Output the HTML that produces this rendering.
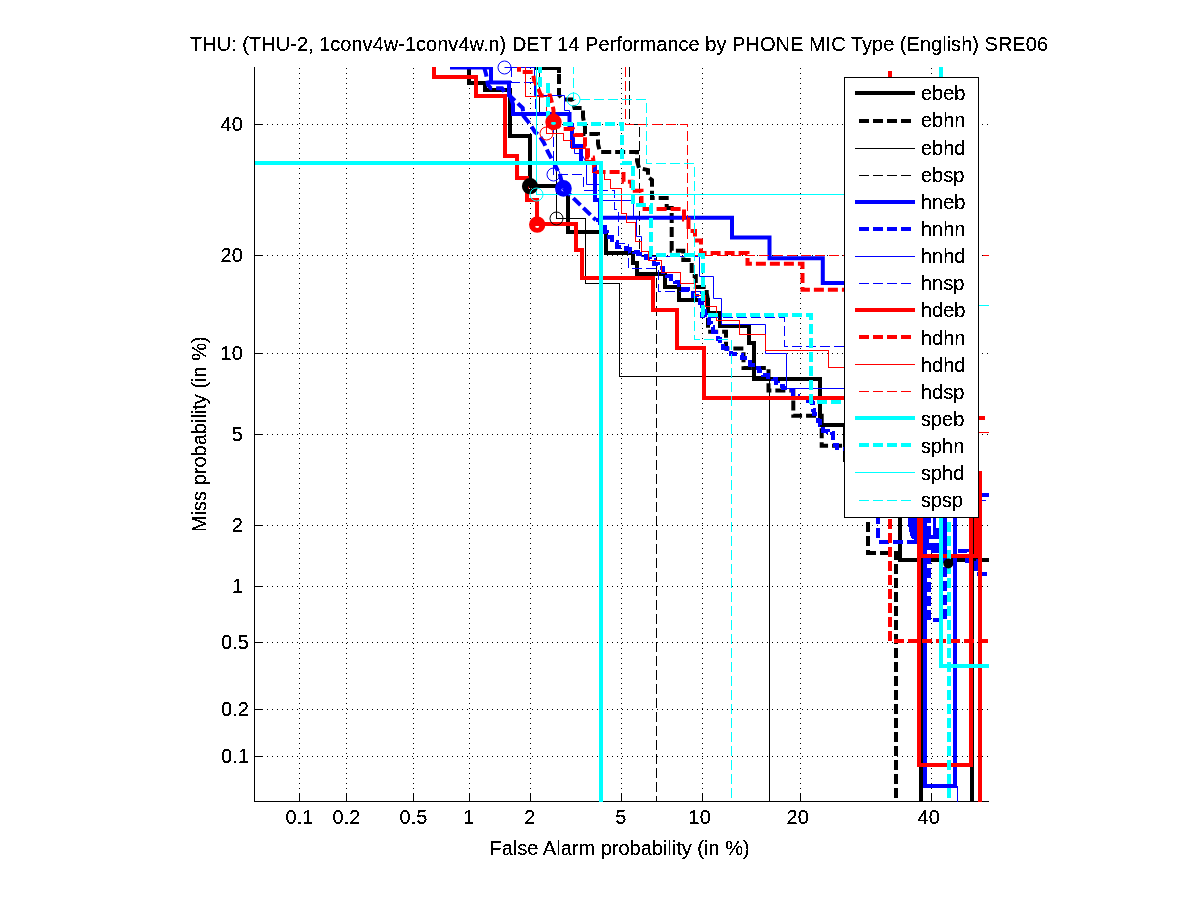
<!DOCTYPE html>
<html><head><meta charset="utf-8"><title>DET plot</title>
<style>
html,body{margin:0;padding:0;background:#fff;}
body{width:1201px;height:900px;overflow:hidden;font-family:"Liberation Sans",sans-serif;}
svg{display:block;}
text{font-family:"Liberation Sans",sans-serif;font-size:20px;fill:#000;filter:url(#th);}
</style></head><body>
<svg width="1201" height="900" viewBox="0 0 1201 900">
<rect x="0" y="0" width="1201" height="900" fill="#ffffff"/>
<defs><clipPath id="pc"><rect x="255" y="67" width="734" height="735"/></clipPath>
<filter id="th" x="-2%" y="-20%" width="104%" height="140%" color-interpolation-filters="sRGB"><feComponentTransfer><feFuncA type="discrete" tableValues="0 0 1 1 1"/></feComponentTransfer></filter></defs>

<g stroke="#000" stroke-width="1" stroke-dasharray="1 4" shape-rendering="crispEdges" fill="none">
<line x1="299.5" y1="799" x2="299.5" y2="67"/>
<line x1="257" y1="756.5" x2="989" y2="756.5"/>
<line x1="346.5" y1="799" x2="346.5" y2="67"/>
<line x1="257" y1="709.5" x2="989" y2="709.5"/>
<line x1="413.5" y1="799" x2="413.5" y2="67"/>
<line x1="257" y1="642.5" x2="989" y2="642.5"/>
<line x1="469.5" y1="799" x2="469.5" y2="67"/>
<line x1="257" y1="586.5" x2="989" y2="586.5"/>
<line x1="530.5" y1="799" x2="530.5" y2="67"/>
<line x1="257" y1="525.5" x2="989" y2="525.5"/>
<line x1="621.5" y1="799" x2="621.5" y2="67"/>
<line x1="257" y1="434.5" x2="989" y2="434.5"/>
<line x1="702.5" y1="799" x2="702.5" y2="67"/>
<line x1="257" y1="353.5" x2="989" y2="353.5"/>
<line x1="800.5" y1="799" x2="800.5" y2="67"/>
<line x1="257" y1="255.5" x2="989" y2="255.5"/>
<line x1="931.5" y1="799" x2="931.5" y2="67"/>
<line x1="257" y1="124.5" x2="989" y2="124.5"/>
</g>
<g stroke="#000" stroke-width="1" shape-rendering="crispEdges" fill="none">
<line x1="254.5" y1="67" x2="254.5" y2="802"/>
<line x1="254" y1="801.5" x2="989" y2="801.5"/>
<line x1="299.5" y1="801" x2="299.5" y2="793"/>
<line x1="254" y1="756.5" x2="263" y2="756.5"/>
<line x1="346.5" y1="801" x2="346.5" y2="793"/>
<line x1="254" y1="709.5" x2="263" y2="709.5"/>
<line x1="413.5" y1="801" x2="413.5" y2="793"/>
<line x1="254" y1="642.5" x2="263" y2="642.5"/>
<line x1="469.5" y1="801" x2="469.5" y2="793"/>
<line x1="254" y1="586.5" x2="263" y2="586.5"/>
<line x1="530.5" y1="801" x2="530.5" y2="793"/>
<line x1="254" y1="525.5" x2="263" y2="525.5"/>
<line x1="621.5" y1="801" x2="621.5" y2="793"/>
<line x1="254" y1="434.5" x2="263" y2="434.5"/>
<line x1="702.5" y1="801" x2="702.5" y2="793"/>
<line x1="254" y1="353.5" x2="263" y2="353.5"/>
<line x1="800.5" y1="801" x2="800.5" y2="793"/>
<line x1="254" y1="255.5" x2="263" y2="255.5"/>
<line x1="931.5" y1="801" x2="931.5" y2="793"/>
<line x1="254" y1="124.5" x2="263" y2="124.5"/>
</g>
<g clip-path="url(#pc)" fill="none" shape-rendering="crispEdges" stroke-linejoin="miter">
<path d="M469 63 L469 82.5 L485 82.5 L485 89.5 L509.5 89.5 L509.5 136 L530 136 L530 186 L568 186 L568 231.7 L606 231.7 L606 252.5 L633.3 252.5 L633.3 263 L636.7 263 L636.7 274 L665 274 L665 286.7 L679 286.7 L679 299.5 L708.3 299.5 L708.3 312.5 L720 312.5 L720 325.8 L749.2 325.8 L749.2 342.5 L754 342.5 L754 379 L820.3 379 L820.3 425 L845 425 L845 460 L900.3 460 L900.3 559.7 L992 559.7" stroke="#000000" stroke-width="4"/>
<path d="M921.2 559.7 L921.2 806" stroke="#000000" stroke-width="4"/>
<path d="M972 480 L972 806" stroke="#000000" stroke-width="4"/>
<path d="M534 67.8 L558.5 67.8 L558.5 72.7" stroke="#000000" stroke-width="4"/>
<path d="M559 74 L559 95 L563 99.5 L572 99.5 L574.5 108 L583 108 L583 117 L585 127 L585 134 L598 134 L598 144 L600 152 L637 152 L637 161 L639 168 L648 170 L648 177 L652 180 L652 198 L666.7 198 L666.7 208 L671.7 208 L671.7 250.8 L683.3 250.8 L683.3 260 L691.7 260 L691.7 276 L695.8 276 L695.8 287 L706.7 287 L706.7 293 L708 300 L708 331.7 L726 331.7 L726 348.5 L743.5 348.5 L743.5 368 L768.5 368 L768.5 390.5 L793.3 390.5 L793.3 415.8 L821.7 415.8 L821.7 445.8 L850 445.8" stroke="#000000" stroke-width="4" stroke-dasharray="10 4" shape-rendering="geometricPrecision"/>
<path d="M868.3 493.7 L868.3 552.5 L895.8 552.5 L895.8 806" stroke="#000000" stroke-width="4" stroke-dasharray="10 4"/>
<path d="M539.5 67 L539.5 114.5 L556.5 114.5 L556.5 218.5 L585.5 218.5 L585.5 283.5 L619.5 283.5 L619.5 376.5 L769.5 376.5 L769.5 806" stroke="#000000" stroke-width="1"/>
<path d="M629.5 67 L629.5 124.5 L639.5 124.5 L639.5 255.5 L656.5 255.5 L656.5 806" stroke="#000000" stroke-width="1" stroke-dasharray="10 4"/>
<path d="M450 67.5 L491 67.5 L491 82.5 L509 82.5 L509 93 L513 104 L513 114 L569.5 114 L569.5 125 L572 125 L572 146 L581 146 L581 163 L595 163 L595 200 L600 200 L600 217.8 L732 217.8 L732 237.5 L769.5 237.5 L769.5 258.3 L822.8 258.3 L822.8 283 L850 283" stroke="#0000ff" stroke-width="4" shape-rendering="geometricPrecision"/>
<path d="M981 494.8 L992 494.8" stroke="#0000ff" stroke-width="4"/>
<path d="M925 480 L925 785.5 L955.3 785.5 L955.3 480" stroke="#0000ff" stroke-width="4"/>
<path d="M484 67 L486 74 L488 85 L491 88.3 L502 88.3 L505 92.7 L510 96 L522.7 108 L523.5 116 L530 124 L535 132 L539 135 L544 143 L548 152 L556 167 L560 175 L563.3 188.3" stroke="#0000ff" stroke-width="4" stroke-dasharray="10 4" shape-rendering="geometricPrecision"/>
<path d="M563.3 188.3 L595.8 220" stroke="#0000ff" stroke-width="4" stroke-dasharray="10 4" shape-rendering="geometricPrecision"/>
<path d="M595.8 220 L599.55 220.0 L599.55 223.35 L603.3 223.35 L603.3 226.7 L605.0 226.7 L605.0 231.7 L606.7 231.7 L606.7 236.7 L611.7 236.7 L611.7 241.7 L616.7 241.7 L616.7 246.7 L621.13 246.7 L621.13 248.07 L625.57 248.07 L625.57 249.43 L630.0 249.43 L630.0 250.8 L633.9 250.8 L633.9 252.47 L637.8 252.47 L637.8 254.13 L641.7 254.13 L641.7 255.8 L645.85 255.8 L645.85 257.9 L650.0 257.9 L650.0 260.0 L654.15 260.0 L654.15 264.15 L658.3 264.15 L658.3 268.3 L662.5 268.3 L662.5 272.05 L666.7 272.05 L666.7 275.8 L670.85 275.8 L670.85 278.75 L675.0 278.75 L675.0 281.7 L679.15 281.7 L679.15 285.45 L683.3 285.45 L683.3 289.2 L688.3 289.2 L688.3 292.5 L693.3 292.5 L693.3 295.8 L696.65 295.8 L696.65 299.55 L700.0 299.55 L700.0 303.3 L701.67 303.3 L701.67 307.05 L703.35 307.05 L703.35 310.8 L705.03 310.8 L705.03 314.55 L706.7 314.55 L706.7 318.3 L708.9 318.3 L708.9 322.77 L711.1 322.77 L711.1 327.23 L713.3 327.23 L713.3 331.7 L715.53 331.7 L715.53 335.57 L717.77 335.57 L717.77 339.43 L720.0 339.43 L720.0 343.3 L723.35 343.3 L723.35 348.3 L726.7 348.3 L726.7 353.3 L730.57 353.3 L730.57 353.87 L734.43 353.87 L734.43 354.43 L738.3 354.43 L738.3 355.0 L741.65 355.0 L741.65 358.35 L745.0 358.35 L745.0 361.7 L750.0 361.7 L750.0 364.6 L755.0 364.6 L755.0 367.5 L759.15 367.5 L759.15 371.25 L763.3 371.25 L763.3 375.0 L768.3 375.0 L768.3 377.1 L773.3 377.1 L773.3 379.2 L775.8 379.2 L775.8 382.5 L778.3 382.5 L778.3 385.8 L783.3 385.8 L783.3 387.9 L788.3 387.9 L788.3 390.0 L793.3 390.0 L793.3 395.8 L798.3 395.8 L798.3 397.9 L803.3 397.9 L803.3 400.0 L807.5 400.0 L807.5 401.25 L811.7 401.25 L811.7 402.5 L812.5 402.5 L812.5 406.25 L813.3 406.25 L813.3 410.0 L814.15 410.0 L814.15 413.75 L815.0 413.75 L815.0 417.5 L817.5 417.5 L817.5 421.25 L820.0 421.25 L820.0 425.0 L823.3 425.0 L823.3 430.8 L827.5 430.8 L827.5 431.65 L831.7 431.65 L831.7 432.5 L832.5 432.5 L832.5 437.1 L833.3 437.1 L833.3 441.7 L835.0 441.7 L835.0 445.0 L836.7 445.0 L836.7 448.3 L841.13 448.3 L841.13 448.6 L845.57 448.6 L845.57 448.9 L850.0 448.9 L850.0 449.2" stroke="#0000ff" stroke-width="4" stroke-dasharray="9.5 4.5"/>
<path d="M878.2 500 L878.2 541.7 L917.5 541.7" stroke="#0000ff" stroke-width="4" stroke-dasharray="10 4"/>
<polygon points="908,515 917,515 917,541 911,538 908,525" fill="#0000ff" stroke="none"/>
<rect x="923" y="515" width="16" height="38" fill="#0000ff" stroke="none"/>
<rect x="927" y="522.5" width="4" height="3.5" fill="#ffffff" stroke="none"/>
<rect x="931" y="518" width="1.5" height="17" fill="#ffffff" stroke="none"/>
<rect x="935.5" y="518" width="3.5" height="10" fill="#ffffff" stroke="none"/>
<rect x="929" y="538.5" width="10" height="4.5" fill="#ffffff" stroke="none"/>
<rect x="926.5" y="550" width="4.5" height="3" fill="#ffffff" stroke="none"/>
<path d="M929 553.7 L929 620" stroke="#0000ff" stroke-width="4" stroke-dasharray="10 4"/>
<path d="M944.6 552.5 L944.6 619" stroke="#0000ff" stroke-width="4" stroke-dasharray="10 4"/>
<path d="M933 620 L939.3 620" stroke="#0000ff" stroke-width="4"/>
<path d="M944.6 556 L944.6 500" stroke="#0000ff" stroke-width="4"/>
<path d="M958 550.5 L967 550.5 L967 561 L976 561 L976 574 L992 574" stroke="#0000ff" stroke-width="4" stroke-dasharray="10 4"/>
<path d="M504.5 67.5 L534.5 67.5 L534.5 95.5 L564.5 95.5 L564.5 110.5 L569.5 110.5 L569.5 125 L574.5 138 L574.5 153.5 L581.5 153.5 L586.5 163 L586.5 184.5 L600.5 184.5 L600.5 200.5 L633.5 200.5 L633.5 218 L636.5 218 L636.5 236.5 L641.5 236.5 L641.5 256.5 L699.5 256.5 L699.5 276.5 L713.5 276.5 L713.5 298.5 L721.5 298.5 L721.5 324.5 L765.5 324.5 L765.5 353.5 L786.5 353.5 L786.5 388.5 L850 388.5" stroke="#0000ff" stroke-width="1" shape-rendering="geometricPrecision"/>
<path d="M981 500.5 L986 500.5" stroke="#0000ff" stroke-width="1"/>
<path d="M957.5 786 L957.5 802" stroke="#0000ff" stroke-width="1"/>
<path d="M511.5 67 L511.5 82.5 L535.5 82.5 L535.5 114.5 L553.5 114.5 L553.5 174.5 L583.5 174.5 L583.5 190.5 L614.5 190.5 L614.5 209.5 L618.5 209.5 L618.5 243.5 L628.5 243.5 L628.5 268.5 L658.5 268.5 L658.5 291.5 L700.5 291.5 L700.5 317.5 L784.5 317.5 L784.5 346.5 L850 346.5" stroke="#0000ff" stroke-width="1" stroke-dasharray="10 4"/>
<path d="M434 63 L434 76.8 L476 76.8 L476 96 L504.8 96 L504.8 156 L516.5 156 L516.5 177.5 L527.3 177.5 L527.3 199.7 L537.2 199.7 L537.2 224 L576 224 L576 250 L582 250 L582 277.5 L653.3 277.5 L653.3 309.5 L677 309.5 L677 348.3 L704.2 348.3 L704.2 397.7 L850 397.7" stroke="#ff0000" stroke-width="4"/>
<path d="M979 417.5 L985 417.5" stroke="#ff0000" stroke-width="4"/>
<path d="M919 480 L919 764.7 L971.3 764.7 L971.3 480" stroke="#ff0000" stroke-width="4"/>
<path d="M919 555.8 L977.5 555.8" stroke="#ff0000" stroke-width="4"/>
<path d="M921 480 L921 555.8" stroke="#ff0000" stroke-width="4"/>
<path d="M976 470.5 L976 555.8" stroke="#ff0000" stroke-width="4"/>
<path d="M980 470.5 L980 806" stroke="#ff0000" stroke-width="4"/>
<path d="M519 61.7 L519 72 L533 72 L534 80 L538 88 L541 95.5 L550 95.5 L552 103 L553.5 110 L553.5 122 L562 129 L573 129 L575 135 L585 135 L585 146.5 L588 146.5 L588 157.5 L593 157.5 L594 166 L597 172 L623.5 172 L623.5 181.7 L631.5 181.7 L631.5 190.8 L641.5 190.8 L641.5 209 L684 209 L684 219.5 L688.5 219.5 L688.5 231 L695 231 L695 240.5 L701 240.5 L701 253 L747.5 253 L747.5 263.7 L802.5 263.7 L802.5 289.7 L850 289.7" stroke="#ff0000" stroke-width="4" stroke-dasharray="10 4" shape-rendering="geometricPrecision"/>
<path d="M890 71 L890 641 L992 641" stroke="#ff0000" stroke-width="4" stroke-dasharray="10 4"/>
<path d="M525.5 67 L525.5 96.5 L546.5 96.5 L546.5 133.5 L563.5 133.5 L563.5 140.5 L571.5 140.5 L571.5 148.5 L585.5 148.5 L585.5 160.5 L592.5 160.5 L592.5 172.5 L604.5 172.5 L604.5 179.5 L610.5 179.5 L610.5 188.5 L621.5 188.5 L621.5 213.5 L626.5 213.5 L626.5 222.5 L635.5 222.5 L635.5 241.5 L641.5 241.5 L641.5 251.5 L648.5 251.5 L648.5 260.5 L661.5 260.5 L661.5 272.5 L680.5 272.5 L680.5 283.5 L695.5 283.5 L695.5 295.5 L705.5 295.5 L705.5 306.5 L716.5 306.5 L716.5 320.5 L739.5 320.5 L739.5 334.5 L765.5 334.5 L765.5 350.5 L828.5 350.5 L828.5 367.5 L850 367.5" stroke="#ff0000" stroke-width="1"/>
<path d="M979 432.5 L992 432.5" stroke="#ff0000" stroke-width="1"/>
<path d="M625.5 67 L625.5 124.5 L687.5 124.5 L687.5 255.5 L992 255.5" stroke="#ff0000" stroke-width="1" stroke-dasharray="10 4"/>
<path d="M250 163.2 L600.8 163.2 L600.8 806" stroke="#00ffff" stroke-width="4"/>
<path d="M941 63 L941 666 L992 666" stroke="#00ffff" stroke-width="4"/>
<path d="M540 62.7 L540 86.7" stroke="#00ffff" stroke-width="4" stroke-dasharray="10 4"/>
<path d="M547.7 83 L547.7 124.2 L622 124.2 L622 163 L633 163 L633 205 L651 205 L651 255 L703.3 255 L703.3 315 L810.8 315 L810.8 402 L850 402" stroke="#00ffff" stroke-width="4" stroke-dasharray="10 4"/>
<path d="M949.2 480 L949.2 806" stroke="#00ffff" stroke-width="4" stroke-dasharray="10 4"/>
<path d="M536.5 67 L536.5 194.5 L900 194.5 L900 305.5 L992 305.5" stroke="#00ffff" stroke-width="1"/>
<path d="M573.5 64.2 L573.5 99.5 L646.5 99.5 L646.5 163.5 L694.5 163.5 L694.5 339.5 L731.5 339.5 L731.5 806" stroke="#00ffff" stroke-width="1" stroke-dasharray="10 4"/>
</g>
<g fill="none">
<path d="M521.9 186.2 a8.1 8.1 0 1 0 16.2 0 a8.1 8.1 0 1 0 -16.2 0 Z M528 187.5 a2 1.5 0 1 0 4 0 a2 1.5 0 1 0 -4 0 Z" fill="#000000" fill-rule="evenodd" stroke="none"/>
<circle cx="948.3" cy="563.5" r="2.5" stroke="#000000" stroke-width="5"/>
<circle cx="556.5" cy="218.5" r="6.5" stroke="#000000" stroke-width="1"/>
<path d="M555.0 188.4 a8.4 8.4 0 1 0 16.8 0 a8.4 8.4 0 1 0 -16.8 0 Z M561.4 189.70000000000002 a2 1.5 0 1 0 4 0 a2 1.5 0 1 0 -4 0 Z" fill="#0000ff" fill-rule="evenodd" stroke="none"/>
<circle cx="504.5" cy="67.5" r="6.5" stroke="#0000ff" stroke-width="1"/>
<circle cx="553.5" cy="174.5" r="6.5" stroke="#0000ff" stroke-width="1"/>
<path d="M529.0 224.6 a8.2 8.2 0 1 0 16.4 0 a8.2 8.2 0 1 0 -16.4 0 Z M535.2 226.79999999999998 a2 1.1 0 1 0 4 0 a2 1.1 0 1 0 -4 0 Z" fill="#ff0000" fill-rule="evenodd" stroke="none"/>
<path d="M545.3 122 a8.2 8.2 0 1 0 16.4 0 a8.2 8.2 0 1 0 -16.4 0 Z M551.0 123.3 a2.5 1.8 0 1 0 5.0 0 a2.5 1.8 0 1 0 -5.0 0 Z" fill="#ff0000" fill-rule="evenodd" stroke="none"/>
<circle cx="546.5" cy="133.5" r="6.5" stroke="#ff0000" stroke-width="1"/>
<circle cx="536.5" cy="194.5" r="6.5" stroke="#00ffff" stroke-width="1"/>
<circle cx="573.5" cy="99.5" r="6.5" stroke="#00ffff" stroke-width="1"/>
</g>
<text x="299.5" y="824" text-anchor="middle">0.1</text>
<text x="248.8" y="762.5" text-anchor="end">0.1</text>
<text x="346.5" y="824" text-anchor="middle">0.2</text>
<text x="248.8" y="715.5" text-anchor="end">0.2</text>
<text x="413.5" y="824" text-anchor="middle">0.5</text>
<text x="248.8" y="648.5" text-anchor="end">0.5</text>
<text x="468.8" y="824" text-anchor="middle">1</text>
<text x="242.8" y="592.5" text-anchor="end">1</text>
<text x="529.8" y="824" text-anchor="middle">2</text>
<text x="242.8" y="531.5" text-anchor="end">2</text>
<text x="620.8" y="824" text-anchor="middle">5</text>
<text x="242.8" y="440.5" text-anchor="end">5</text>
<text x="699.7" y="824" text-anchor="middle">10</text>
<text x="242.8" y="359.5" text-anchor="end">10</text>
<text x="797.7" y="824" text-anchor="middle">20</text>
<text x="242.8" y="261.5" text-anchor="end">20</text>
<text x="928.7" y="824" text-anchor="middle">40</text>
<text x="242.8" y="130.5" text-anchor="end">40</text>
<text x="190" y="50.8" textLength="858" lengthAdjust="spacing">THU: (THU-2, 1conv4w-1conv4w.n) DET 14 Performance by PHONE MIC Type (English) SRE06</text>
<text x="489.5" y="854.5">False Alarm probability (in %)</text>
<text transform="translate(206,532) rotate(-90)">Miss probability (in %)</text>
<rect x="844.5" y="77.5" width="134" height="440" fill="#fff" stroke="#000" stroke-width="1" shape-rendering="crispEdges"/>
<g shape-rendering="crispEdges" fill="none">
<line x1="855" y1="93" x2="915" y2="93" stroke="#000" stroke-width="4"/>
<line x1="859" y1="121" x2="911.3" y2="121" stroke="#000" stroke-width="4" stroke-dasharray="10 4.1"/>
<line x1="855" y1="148.5" x2="915" y2="148.5" stroke="#000" stroke-width="1"/>
<line x1="859" y1="175.5" x2="911.3" y2="175.5" stroke="#000" stroke-width="1" stroke-dasharray="10 4.1"/>
<line x1="855" y1="202" x2="915" y2="202" stroke="#0000ff" stroke-width="4"/>
<line x1="859" y1="229" x2="911.3" y2="229" stroke="#0000ff" stroke-width="4" stroke-dasharray="10 4.1"/>
<line x1="855" y1="256.5" x2="915" y2="256.5" stroke="#0000ff" stroke-width="1"/>
<line x1="859" y1="283.5" x2="911.3" y2="283.5" stroke="#0000ff" stroke-width="1" stroke-dasharray="10 4.1"/>
<line x1="855" y1="310" x2="915" y2="310" stroke="#ff0000" stroke-width="4"/>
<line x1="859" y1="337" x2="911.3" y2="337" stroke="#ff0000" stroke-width="4" stroke-dasharray="10 4.1"/>
<line x1="855" y1="364.5" x2="915" y2="364.5" stroke="#ff0000" stroke-width="1"/>
<line x1="859" y1="391.5" x2="911.3" y2="391.5" stroke="#ff0000" stroke-width="1" stroke-dasharray="10 4.1"/>
<line x1="855" y1="418" x2="915" y2="418" stroke="#00ffff" stroke-width="4"/>
<line x1="859" y1="445" x2="911.3" y2="445" stroke="#00ffff" stroke-width="4" stroke-dasharray="10 4.1"/>
<line x1="855" y1="472.5" x2="915" y2="472.5" stroke="#00ffff" stroke-width="1"/>
<line x1="859" y1="500.5" x2="911.3" y2="500.5" stroke="#00ffff" stroke-width="1" stroke-dasharray="10 4.1"/>
</g>
<text x="921" y="100.2">ebeb</text>
<text x="921" y="127.4">ebhn</text>
<text x="921" y="154.5">ebhd</text>
<text x="921" y="181.6">ebsp</text>
<text x="921" y="208.8">hneb</text>
<text x="921" y="235.9">hnhn</text>
<text x="921" y="263.1">hnhd</text>
<text x="921" y="290.2">hnsp</text>
<text x="921" y="317.4">hdeb</text>
<text x="921" y="344.6">hdhn</text>
<text x="921" y="371.7">hdhd</text>
<text x="921" y="398.8">hdsp</text>
<text x="921" y="426.0">speb</text>
<text x="921" y="453.1">sphn</text>
<text x="921" y="480.3">sphd</text>
<text x="921" y="507.4">spsp</text>
</svg></body></html>
